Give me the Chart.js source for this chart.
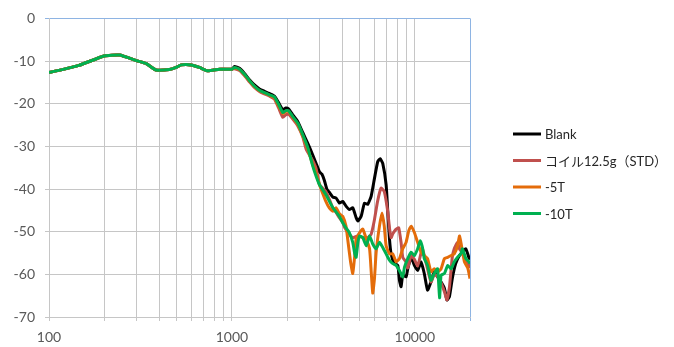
<!DOCTYPE html>
<html>
<head>
<meta charset="utf-8">
<script src="https://cdn.jsdelivr.net/npm/chart.js@4"></script>
<style>
  html, body { margin: 0; padding: 0; background: #fff; }
</style>
</head>
<body>
<canvas id="freqChart" width="674" height="347"></canvas>
<script>
const FONT = "Lato, 'Noto Sans CJK JP', sans-serif";

const seriesNames = ["Blank", "コイル12.5g（STD）", "-5T", "-10T"];
const seriesColors = ["#000000", "#c0504d", "#e46c0a", "#00b050"];
const xTickLabels = [100, 1000, 10000];

// all four runs coincide below 1 kHz
const baseFreq = [100, 146, 200, 243, 300, 340, 385, 455, 495, 528, 598, 664, 738, 855, 1000];
const baseDb = [-12.7, -11.0, -8.8, -8.6, -9.9, -10.6, -12.1, -12.0, -11.5, -10.9, -10.9, -11.5, -12.3, -11.9, -11.9];

const blankFreq = [1032, 1100, 1170, 1253, 1327, 1420, 1506, 1600, 1706, 1800, 1897, 1970, 2037, 2150, 2291, 2440, 2597, 2750, 2884, 3010, 3100, 3200, 3300, 3411, 3560, 3708, 3865, 4030, 4200, 4380, 4573, 4772, 4880, 5083, 5297, 5521, 5763, 6010, 6260, 6454, 6670, 6960, 7100, 7260, 7410, 7730, 8060, 8230, 8400, 8580, 8950, 9140, 9530, 9930, 10350, 10800, 11250, 11720, 12240, 12760, 13300, 13900, 14500, 14960, 15440, 16000, 16700, 17510, 18200, 18980, 19800, 20000];
const blankDb = [-11.3, -11.7, -12.9, -14.5, -15.6, -16.6, -17.1, -17.6, -18.2, -19.8, -21.4, -21.0, -21.2, -22.6, -24.2, -26.8, -29.3, -31.8, -34.0, -36.0, -36.5, -38.0, -40.0, -40.8, -41.9, -42.1, -43.3, -42.9, -44.0, -44.8, -44.4, -46.7, -47.5, -46.4, -43.3, -43.6, -41.7, -37.5, -33.6, -32.9, -34.0, -39.0, -45.0, -51.7, -55.2, -57.5, -57.9, -61.4, -62.9, -60.2, -60.6, -58.7, -56.0, -57.9, -59.1, -57.1, -59.8, -63.7, -61.8, -59.4, -60.6, -61.8, -63.3, -66.0, -65.2, -61.0, -57.5, -55.6, -54.8, -54.0, -56.3, -56.5];

const stdFreq = [1032, 1100, 1170, 1253, 1327, 1420, 1506, 1600, 1706, 1800, 1897, 1970, 2037, 2150, 2291, 2440, 2541, 2750, 2884, 3010, 3100, 3260, 3411, 3560, 3708, 3865, 4030, 4130, 4380, 4573, 4880, 5190, 5520, 5763, 5990, 6250, 6530, 6800, 7100, 7260, 7410, 7570, 7890, 8150, 8400, 8580, 8950, 9140, 9530, 9930, 10350, 10800, 11000, 11720, 12240, 12760, 13300, 13900, 14500, 14960, 15440, 16000, 16400, 17110, 17510, 18200, 18980, 19800, 20000];
const stdDb = [-11.8, -12.2, -13.4, -15.0, -16.2, -17.2, -17.7, -18.2, -18.9, -21.0, -23.2, -22.6, -22.4, -23.6, -25.2, -27.8, -30.6, -33.2, -35.2, -39.0, -39.6, -40.6, -42.5, -44.4, -45.5, -46.7, -47.8, -49.0, -50.6, -51.4, -51.0, -51.4, -51.4, -50.6, -47.5, -42.9, -39.8, -40.6, -45.2, -49.1, -51.4, -50.5, -49.4, -49.1, -52.5, -56.0, -57.1, -58.5, -55.6, -56.5, -58.0, -55.0, -54.0, -58.7, -61.8, -60.0, -60.5, -62.0, -64.1, -66.0, -63.0, -56.0, -54.0, -52.5, -54.0, -55.0, -56.5, -58.0, -58.5];

const fiveFreq = [1032, 1100, 1170, 1253, 1327, 1420, 1506, 1600, 1706, 1800, 1897, 1970, 2037, 2150, 2291, 2440, 2597, 2750, 2884, 3010, 3100, 3260, 3411, 3560, 3708, 3865, 4030, 4200, 4290, 4450, 4573, 4690, 4772, 4990, 5190, 5420, 5650, 5770, 5880, 6010, 6140, 6400, 6610, 6800, 6960, 7260, 7570, 7890, 8230, 8580, 8950, 9250, 9530, 9930, 10350, 10800, 11250, 11720, 12240, 12760, 13300, 13900, 14500, 15110, 15750, 16400, 17110, 17510, 17830, 18650, 19450, 20000];
const fiveDb = [-11.6, -12.0, -13.2, -14.8, -16.0, -17.0, -17.5, -18.0, -18.6, -20.5, -22.3, -21.8, -21.8, -23.2, -24.8, -27.6, -30.6, -34.0, -36.5, -39.0, -40.5, -42.9, -44.5, -45.2, -44.4, -45.8, -46.4, -48.7, -51.7, -57.1, -59.8, -55.6, -51.7, -50.2, -49.4, -51.7, -54.0, -59.4, -64.4, -61.0, -54.8, -48.7, -45.6, -48.7, -53.3, -55.2, -55.2, -57.1, -56.3, -54.0, -52.5, -49.8, -48.7, -50.2, -52.5, -54.8, -55.6, -56.3, -59.4, -58.7, -59.4, -58.7, -56.3, -56.0, -55.6, -55.2, -53.3, -51.0, -52.5, -57.1, -58.5, -61.0];

const tenFreq = [1032, 1100, 1170, 1253, 1327, 1420, 1506, 1600, 1706, 1800, 1897, 1970, 2037, 2150, 2291, 2440, 2597, 2760, 2884, 3010, 3260, 3560, 3865, 4030, 4200, 4380, 4573, 4690, 4772, 4880, 4990, 5190, 5420, 5650, 5880, 6140, 6400, 6670, 6960, 7260, 7570, 7890, 8230, 8580, 8770, 9140, 9530, 9930, 10350, 10700, 11000, 11250, 11720, 12240, 12760, 13300, 13640, 13900, 14500, 15110, 15750, 16400, 17110, 17830, 18200, 18980, 19800, 20000];
const tenDb = [-11.5, -11.9, -13.1, -14.7, -15.9, -16.9, -17.4, -17.9, -18.4, -20.2, -22.1, -21.6, -21.6, -23.0, -24.6, -27.3, -30.3, -34.5, -37.0, -39.0, -41.3, -44.4, -46.4, -47.9, -49.1, -50.2, -52.5, -55.2, -56.0, -52.5, -51.0, -51.4, -53.3, -51.0, -52.9, -54.0, -52.5, -53.7, -55.2, -56.7, -57.5, -57.9, -59.1, -60.6, -58.3, -56.3, -54.8, -55.6, -54.0, -52.1, -53.7, -56.3, -57.9, -61.4, -59.8, -58.7, -65.5, -60.2, -59.8, -57.9, -58.7, -57.1, -56.0, -55.2, -54.0, -56.3, -57.1, -57.5];

function toPoints(freqs, dbs) {
  const f = baseFreq.concat(freqs);
  const d = baseDb.concat(dbs);
  return f.map((x, i) => ({ x: x, y: d[i] }));
}

const allSeries = [
  toPoints(blankFreq, blankDb),
  toPoints(stdFreq, stdDb),
  toPoints(fiveFreq, fiveDb),
  toPoints(tenFreq, tenDb),
];

// grid lines at 1..9 of each decade, up to 20 kHz
const xGrid = [];
[100, 1000, 10000].forEach((d) => {
  for (let k = 1; k <= 9; k++) {
    if (k * d <= 20000) xGrid.push(k * d);
  }
});

const GRID = "#c6c6c6";
const FRAME = "#8eb4e3";

// legend drawn to the right of the plot
const sideLegend = {
  id: "sideLegend",
  afterDraw(chart) {
    const ctx = chart.ctx;
    const x0 = chart.chartArea.right + 43;
    ctx.save();
    ctx.font = "13px " + FONT;
    ctx.textBaseline = "middle";
    seriesNames.forEach((name, i) => {
      const y = 134 + i * 26.5;
      ctx.strokeStyle = seriesColors[i];
      ctx.lineWidth = 3;
      ctx.beginPath();
      ctx.moveTo(x0, y);
      ctx.lineTo(x0 + 28, y);
      ctx.stroke();
      ctx.fillStyle = "#262626";
      ctx.fillText(name, x0 + 32, y + 1);
    });
    ctx.restore();
  },
};

new Chart(document.getElementById("freqChart"), {
  type: "line",
  data: {
    datasets: allSeries.map((pts, i) => ({
      label: seriesNames[i],
      data: pts,
      borderColor: seriesColors[i],
      backgroundColor: seriesColors[i],
      borderWidth: 3,
      pointRadius: 0,
      tension: 0.15,
      order: 4 - i,
    })),
  },
  options: {
    responsive: false,
    animation: false,
    layout: { padding: { top: 14, right: 204, bottom: 0, left: 0 } },
    plugins: {
      legend: { display: false },
      tooltip: { enabled: false },
    },
    scales: {
      x: {
        type: "logarithmic",
        min: 100,
        max: 20000,
        afterBuildTicks: (scale) => {
          scale.ticks = xGrid.map((v) => ({ value: v }));
        },
        afterFit: (scale) => {
          scale.height = 30;
        },
        ticks: {
          autoSkip: false,
          maxRotation: 0,
          padding: 8,
          color: "#595959",
          font: { family: FONT, size: 14 },
          callback: (v) => (xTickLabels.includes(v) ? String(v) : ""),
        },
        grid: {
          color: (c) => (c.tick && c.tick.value === 20000 ? FRAME : GRID),
          tickLength: 4,
        },
        border: { color: GRID },
      },
      y: {
        min: -70,
        max: 0,
        afterFit: (scale) => {
          scale.width = 49;
        },
        ticks: {
          stepSize: 10,
          padding: 10,
          color: "#595959",
          font: { family: FONT, size: 14 },
        },
        grid: {
          color: (c) => (c.tick && c.tick.value === 0 ? FRAME : GRID),
          tickLength: 4,
        },
        border: { color: GRID },
      },
    },
  },
  plugins: [sideLegend],
});
</script>
</body>
</html>
